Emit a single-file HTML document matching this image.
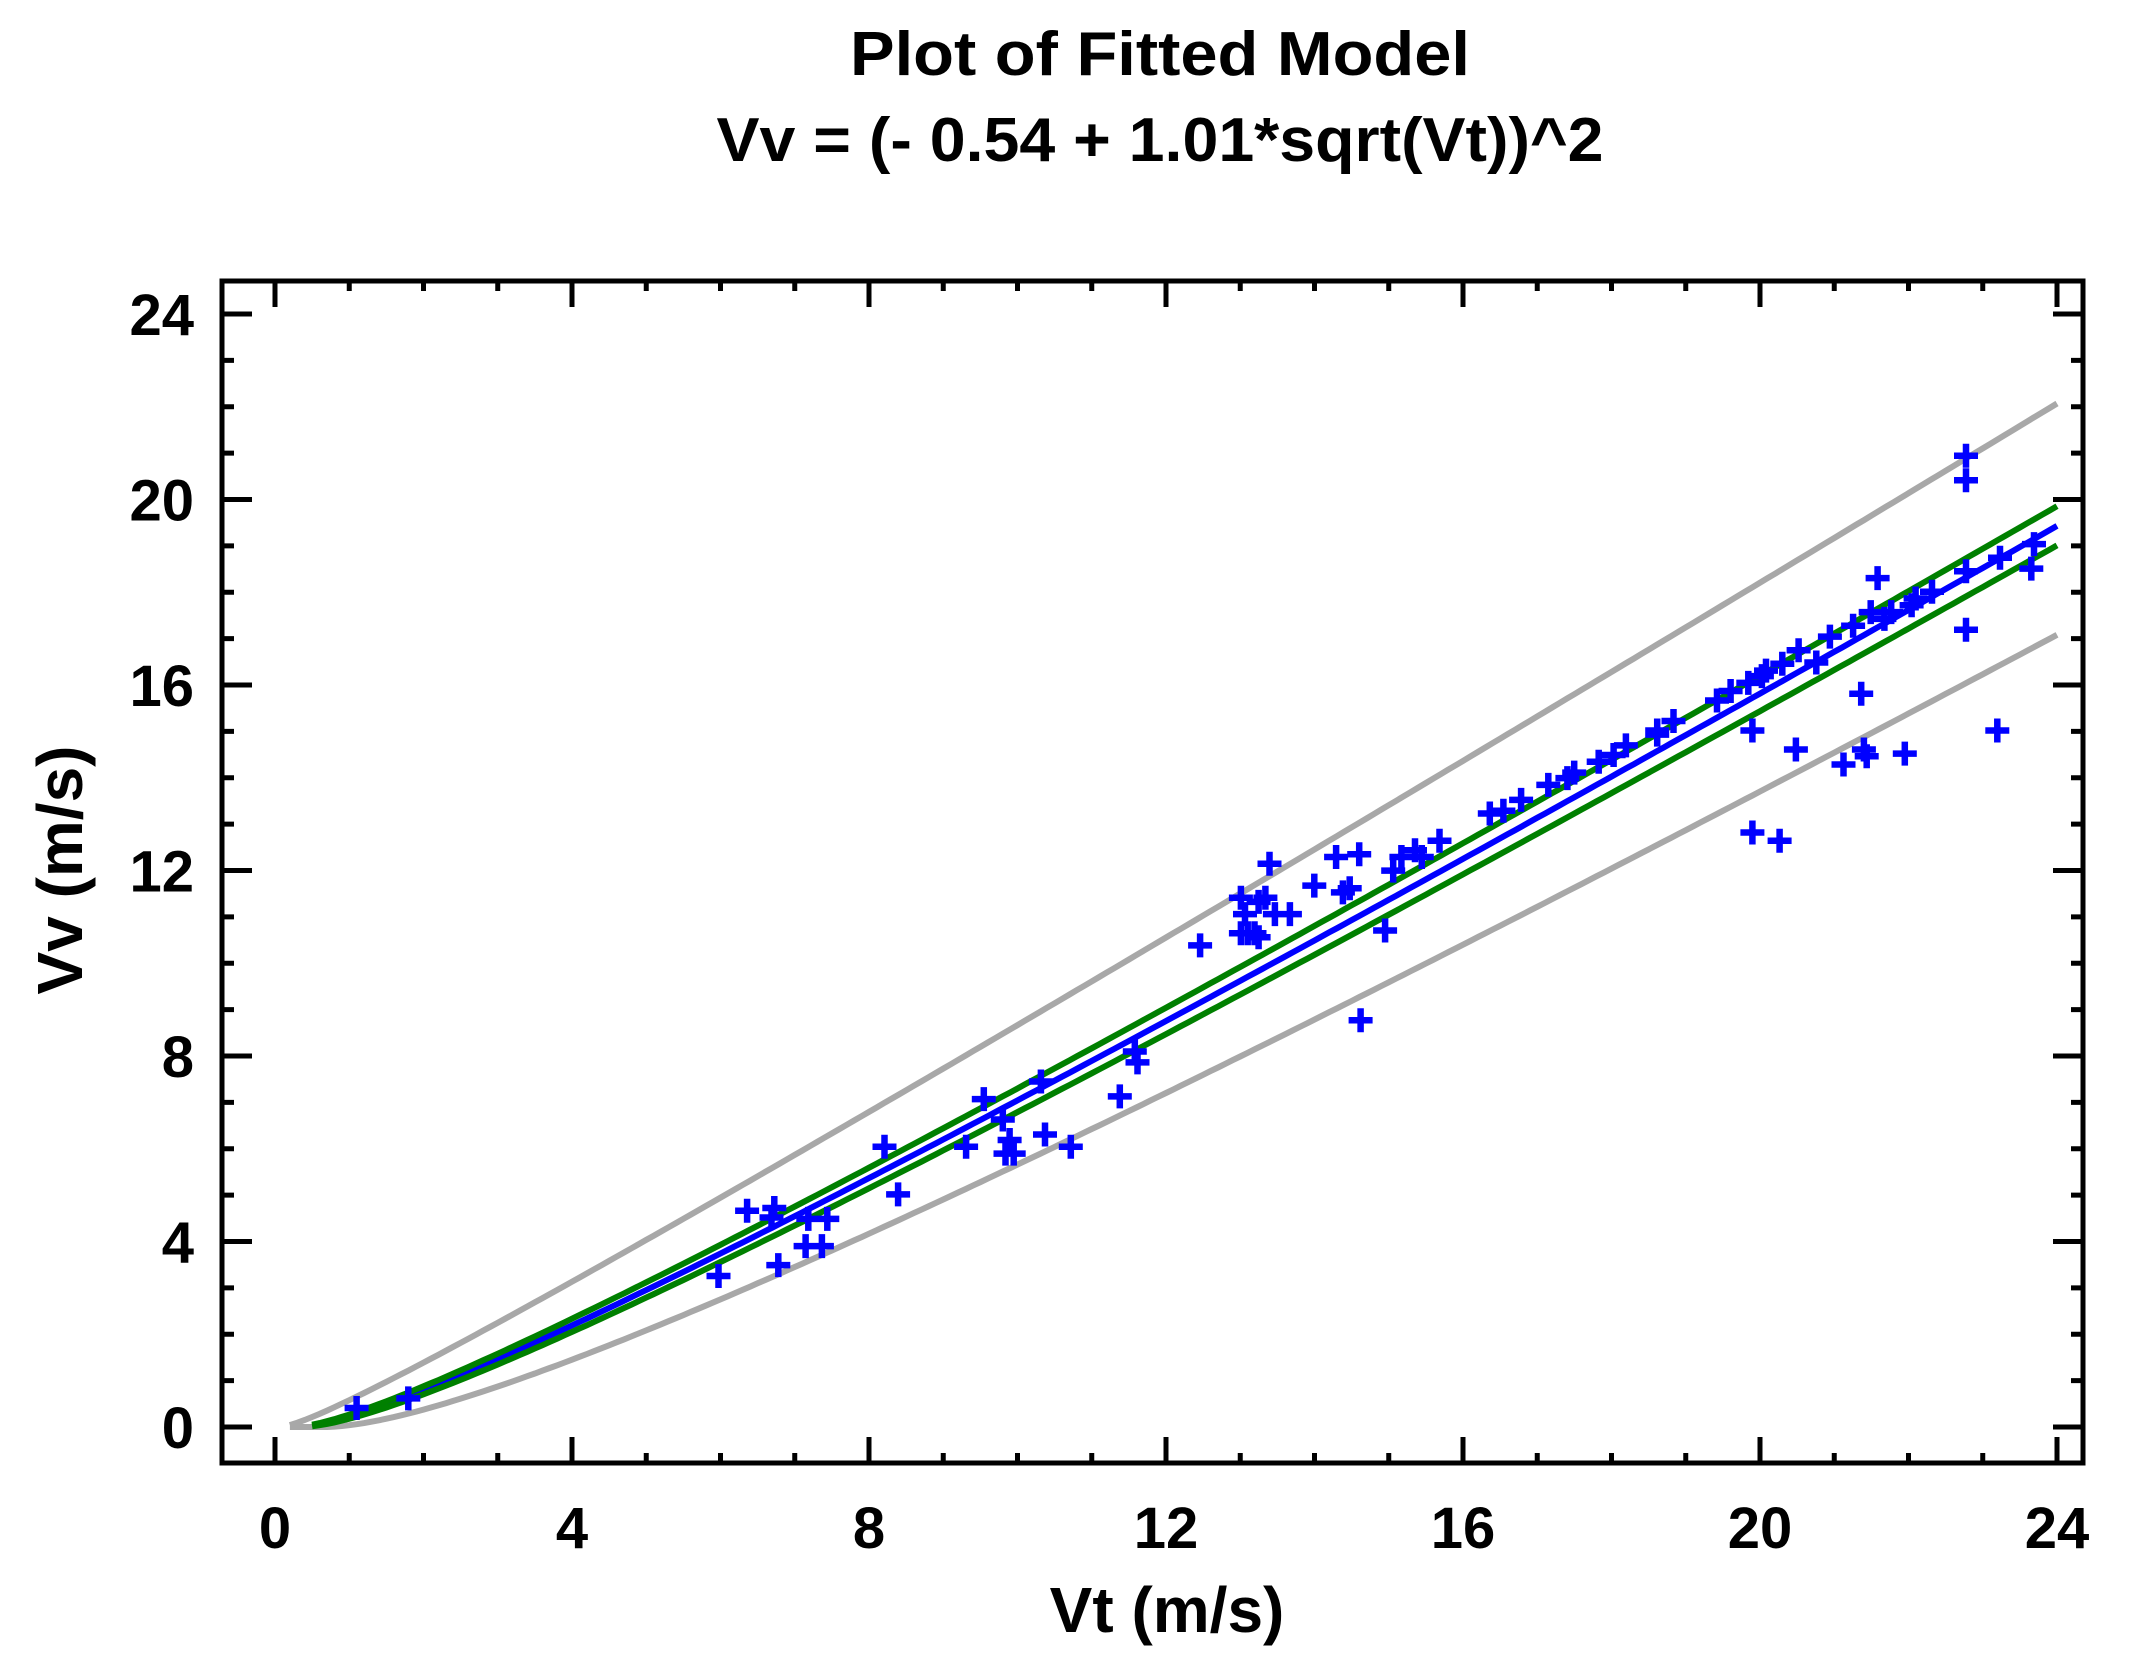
<!DOCTYPE html>
<html><head><meta charset="utf-8"><style>
html,body{margin:0;padding:0;background:#fff;}
svg{display:block;}
text{font-family:"Liberation Sans",Arial,sans-serif;font-weight:bold;fill:#000;}
</style></head><body>
<svg id="s" width="2133" height="1665" viewBox="0 0 2133 1665" xmlns="http://www.w3.org/2000/svg">
<rect width="2133" height="1665" fill="#fff"/>
<text x="1160" y="75" font-size="62" text-anchor="middle" textLength="620" lengthAdjust="spacingAndGlyphs">Plot of Fitted Model</text>
<text x="1160" y="161" font-size="62" text-anchor="middle" textLength="887" lengthAdjust="spacingAndGlyphs">Vv = (- 0.54 + 1.01*sqrt(Vt))^2</text>
<g id="g"></g>
<text x="1167" y="1632" font-size="64" text-anchor="middle">Vt (m/s)</text>
<text transform="translate(82,870) rotate(-90)" font-size="64" text-anchor="middle">Vv (m/s)</text>
</svg>
<script>
var NS="http://www.w3.org/2000/svg",g=document.getElementById("g");
function el(t,a){var e=document.createElementNS(NS,t);for(var k in a)e.setAttribute(k,a[k]);g.appendChild(e);return e;}
var L=222,R=2083,T=281,B=1463;
function X(v){return 275+v*(2057-275)/24;}
function Y(v){return 1427-v*(1427-314)/24;}
function curve(w,col,sw,x0){var p=[];for(var x=x0;x<=24.001;x+=0.1){var r=-0.54+1.01*Math.sqrt(x)+w;if(r<0)r=0;p.push(X(x).toFixed(1)+","+Y(r*r).toFixed(1));}
el("polyline",{points:p.join(" "),fill:"none",stroke:col,"stroke-width":sw});}
curve(0.29,"#a8a8a8",6,0.2);curve(-0.275,"#a8a8a8",6,0.2);
curve(0,"#0000ff",6,0.6);curve(0.048,"#008000",6,0.5);curve(-0.048,"#008000",6,0.5);
var P=[[528,938],[549,890],[569,888],[572,930],[567,895],[592,916],[594,896],[604,916],[608,896],[650,843],[660,878],[723,808],[737,823],[739,848],[742,838],[745,848],[710,843],[768,834],[765,795],[787,843],[823,806],[834,773],[836,781],[882,695],[912,686],[917,686],[922,686],[925,689],[912,660],[915,672],[930,660],[933,635],[925,663],[937,672],[948,672],[966,651],[982,630],[987,656],[992,653],[999,628],[1000,750],[1018,684],[1024,640],[1030,630],[1040,625],[1045,630],[1058,618],[1095,598],[1105,596],[1118,588],[1138,577],[1152,572],[1157,568],[1175,560],[1186,555],[1195,548],[1218,537],[1230,530],[1262,515],[1272,508],[1285,502],[1288,537],[1288,612],[1295,497],[1308,618],[1320,551],[1335,487],[1355,562],[1368,510],[1370,551],[1372,556],[1380,425],[1385,455],[1400,554],[1405,445],[1420,435],[1445,335],[1445,353],[1445,463],[1445,420],[1468,537],[1470,410],[1493,418],[1495,400],[1298,493],[1310,488],[1322,478],[1345,468],[1362,460],[1375,450],[1390,450],[1408,440],[1218,540],[262,1035],[300,1028]];
var d="";P.forEach(function(p){var x=275+(p[0]-202)*1.3604,y=1427-(1049-p[1])*1.3604;d+="M"+(x-12).toFixed(1)+" "+y.toFixed(1)+"h24M"+x.toFixed(1)+" "+(y-12).toFixed(1)+"v24";});
el("path",{d:d,stroke:"#0000ff","stroke-width":6.5,fill:"none"});
el("rect",{x:L,y:T,width:R-L,height:B-T,fill:"none",stroke:"#000","stroke-width":5});
var t="";
for(var i=0;i<=24;i++){var x=X(i),mj=i%4==0,len=mj?26:10;t+="M"+x+" "+B+"v"+(-len)+"M"+x+" "+T+"v"+len;
 var y=Y(i),l2=mj?30:12;t+="M"+L+" "+y+"h"+l2+"M"+R+" "+y+"h"+(-l2);
 if(mj){var a=el("text",{x:x,y:1548,"font-size":58,"text-anchor":"middle"});a.textContent=i;
 var b=el("text",{x:194,y:y+21,"font-size":58,"text-anchor":"end"});b.textContent=i;}}
el("path",{d:t,stroke:"#000","stroke-width":5,fill:"none"});
</script>
</body></html>
